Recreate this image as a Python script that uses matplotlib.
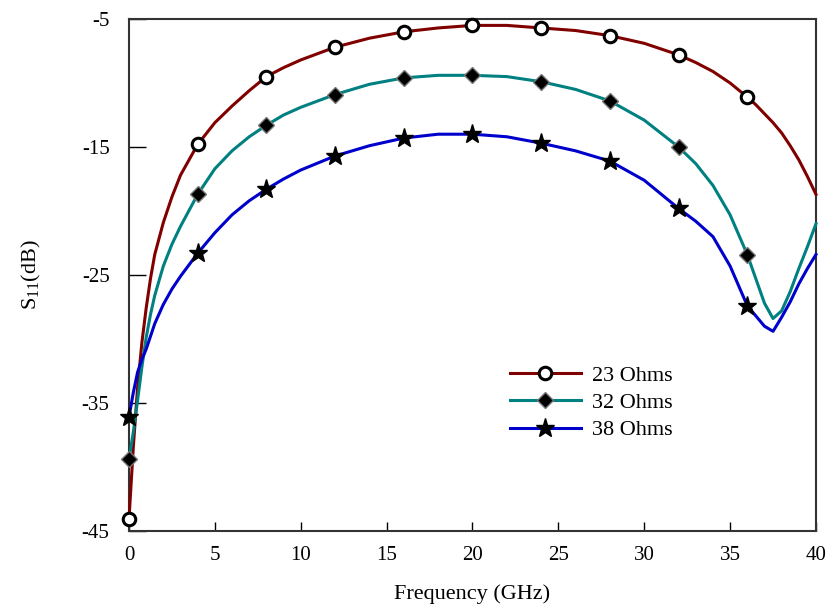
# S11 versus frequency for three line impedances

import numpy as np
import matplotlib
matplotlib.use('Agg')
import matplotlib.pyplot as plt


freq = [0, 0.25, 0.5, 0.75, 1, 1.25, 1.5, 2, 2.5, 3, 4, 5, 6, 7, 8, 9, 10, 12, 14, 16,
        18, 20, 22, 24, 26, 28, 30, 32, 33, 34, 35, 36, 36.5, 37, 37.5, 38, 38.5, 39,
        39.5, 40]

s11_23 = [-44.1, -38.5, -33.8, -30.3, -27.6, -25.3, -23.4, -20.9, -18.9, -17.2, -14.8,
          -13.1, -11.8, -10.6, -9.5, -8.8, -8.2, -7.2, -6.5, -6.0, -5.7, -5.5, -5.5,
          -5.7, -5.9, -6.3, -6.9, -7.8, -8.4, -9.1, -10.0, -11.1, -11.7, -12.4, -13.1,
          -13.9, -14.9, -16.0, -17.3, -18.7]

s11_32 = [-39.4, -37.3, -34.8, -32.2, -29.9, -28.1, -26.6, -24.3, -22.6, -21.2, -18.7,
          -16.7, -15.3, -14.2, -13.3, -12.5, -11.9, -10.9, -10.1, -9.6, -9.4, -9.4, -9.5,
          -9.9, -10.5, -11.4, -12.9, -15.0, -16.3, -18.0, -20.3, -23.4, -25.3, -27.2,
          -28.4, -27.8, -26.3, -24.5, -22.8, -21.0]

s11_38 = [-36.1, -34.2, -32.6, -31.6, -30.8, -29.8, -28.8, -27.3, -26.1, -25.1, -23.3,
          -21.7, -20.3, -19.2, -18.3, -17.5, -16.8, -15.7, -14.9, -14.3, -14.0, -14.0,
          -14.2, -14.7, -15.3, -16.1, -17.6, -19.8, -20.8, -22.0, -24.3, -27.4, -28.2,
          -29.0, -29.4, -28.3, -27.1, -25.7, -24.5, -23.4]

labels = ['23 Ohms', '32 Ohms', '38 Ohms']

x_ticks = [0, 5, 10, 15, 20, 25, 30, 35, 40]
y_ticks = [-45, -35, -25, -15, -5]


plt.rcParams['font.family'] = ['Liberation Serif', 'DejaVu Serif']
plt.rcParams['mathtext.fontset'] = 'custom'
plt.rcParams['mathtext.rm'] = 'Liberation Serif'
plt.rcParams['axes.unicode_minus'] = False

fig = plt.figure(figsize=(8.3, 6.15), dpi=100)
ax = fig.add_axes([0.1554, 0.1366, 0.8277, 0.8325])

f = np.array(freq)
marks = list(np.isclose(f % 4, 0) & (f <= 36))

ax.plot(f, s11_23, color='#800000', lw=2.2, marker='o', markersize=9,
        markerfacecolor='white', markeredgecolor='black', markeredgewidth=2.2,
        markevery=marks, clip_on=False, zorder=3, label=labels[0])
ax.plot(f, s11_32, color='#008080', lw=2.2, marker='D', markersize=8,
        markerfacecolor='black', markeredgecolor='#777777', markeredgewidth=1.0,
        markevery=marks, clip_on=False, zorder=3, label=labels[1])
ax.plot(f, s11_38, color='#0000cc', lw=2.2, marker='*', markersize=14,
        markerfacecolor='black', markeredgecolor='black',
        markevery=marks, clip_on=False, zorder=3, label=labels[2])

ax.set_xlim(0, 40)
ax.set_ylim(-45, -5)
ax.set_xticks(x_ticks)
ax.set_yticks(y_ticks)
ax.tick_params(axis='x', direction='in', length=6.5, width=1, labelsize=15, pad=11)
ax.tick_params(axis='y', direction='in', length=12, width=1, labelsize=15, pad=14)

for s in ax.spines.values():
    s.set_linewidth(1.5)
    s.set_color('#333333')

ax.set_xlabel('Frequency (GHz)', fontsize=16, labelpad=14)
ax.set_ylabel('S$_{11}$(dB)', fontsize=16, labelpad=28)

ax.legend(loc='center left', bbox_to_anchor=(0.525, 0.25), frameon=False,
          fontsize=16, handlelength=3.2, labelspacing=0.3, handletextpad=0.5)

fig.savefig('out.png', dpi=100)
